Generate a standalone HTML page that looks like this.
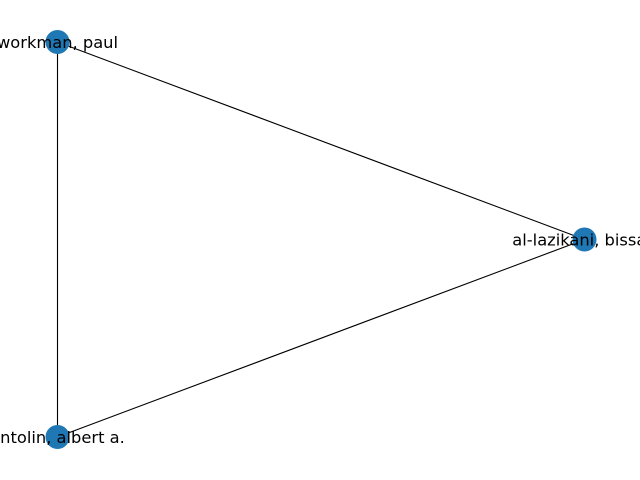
<!DOCTYPE html>
<html>
<head>
<meta charset="utf-8">
<style>
html,body{margin:0;padding:0;background:#fff;}
svg{display:block;}
text{font-family:"DejaVu Sans","Liberation Sans",sans-serif;font-size:16.3px;}
</style>
</head>
<body>
<svg id="chart" width="640" height="480" viewBox="0 0 640 480"></svg>
<script>
const nodeNames = ["workman, paul", "al-lazikani, bissan", "antolin, albert a."];
const nodeX = [0.0, 1.0, 0.0];
const nodeY = [1.0, 0.5, 0.0];
const edgeSource = [0, 0, 1];
const edgeTarget = [1, 2, 2];

const sx = v => 57.5 + v * (584 - 57);
const sy = v => 437 - v * (437 - 42);
const svg = document.getElementById('chart');
const NS = 'http://www.w3.org/2000/svg';

for (let i = 0; i < edgeSource.length; i++) {
  const a = edgeSource[i], b = edgeTarget[i];
  const l = document.createElementNS(NS, 'line');
  l.setAttribute('x1', sx(nodeX[a])); l.setAttribute('y1', sy(nodeY[a]));
  l.setAttribute('x2', sx(nodeX[b])); l.setAttribute('y2', sy(nodeY[b]));
  l.setAttribute('stroke', '#000'); l.setAttribute('stroke-width', '1.1');
  
  
  svg.appendChild(l);
}
for (let i = 0; i < nodeNames.length; i++) {
  const c = document.createElementNS(NS, 'circle');
  c.setAttribute('cx', sx(nodeX[i])); c.setAttribute('cy', sy(nodeY[i]));
  c.setAttribute('r', '12'); c.setAttribute('fill', '#1f77b4');
  
  
  svg.appendChild(c);
}
for (let i = 0; i < nodeNames.length; i++) {
  const t = document.createElementNS(NS, 'text');
  t.setAttribute('x', sx(nodeX[i])); t.setAttribute('y', sy(nodeY[i]) + 6);
  t.setAttribute('text-anchor', 'middle'); t.setAttribute('fill', '#000');
  t.textContent = nodeNames[i];
  
  
  svg.appendChild(t);
}
</script>
</body>
</html>
